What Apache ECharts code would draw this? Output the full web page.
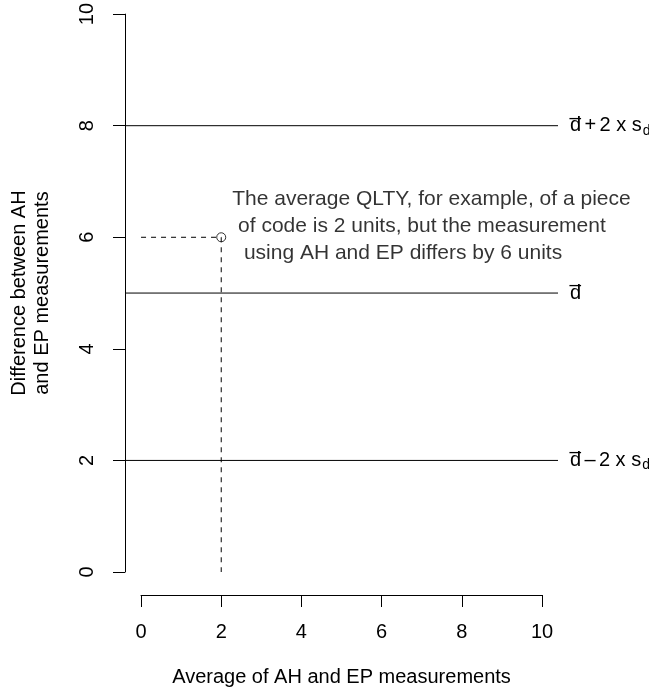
<!DOCTYPE html>
<html>
<head>
<meta charset="utf-8">
<title>Bland-Altman plot</title>
<script src="https://cdn.jsdelivr.net/npm/echarts@6/dist/echarts.min.js"></script>
<style>
  html, body { margin: 0; padding: 0; background: #fff; }
  #chart { width: 649px; height: 696px; }
</style>
</head>
<body>
<div id="chart"></div>
<script>
// Limits of agreement: upper (mean + 2 sd), mean difference, lower (mean - 2 sd)
const limitNames = ['upper', 'mean', 'lower'];
const limitValues = [8, 5, 2];
// Example measurement: average 2, difference 6
const examplePoint = [2, 6];
// Axis tick values
const xTicks = [0, 2, 4, 6, 8, 10];
const yTicks = [0, 2, 4, 6, 8, 10];
// Plot region extends 4% past the data range on x
const xRegion = [-0.4, 10.4];

const FONT = "'Liberation Sans', Arial, sans-serif";
const INK = '#000';

const dBar = '{d|d\u0305}';
const limitLabels = {
  upper: dBar + '{t|\u2006+\u20062 x s}{s|d}',
  mean: dBar,
  lower: dBar + '{t|\u2006\u2013\u20062 x s}{s|d}'
};

const richLabel = {
  d: { fontSize: 20, fontFamily: FONT, color: INK },
  t: { fontSize: 20, fontFamily: FONT, color: INK },
  s: { fontSize: 14, fontFamily: FONT, color: INK, padding: [10, 0, 0, 1] }
};

const limitSeries = limitValues.map((v, i) => ({
  type: 'line',
  xAxisIndex: 0,
  yAxisIndex: 0,
  data: [[xRegion[0], v], [xRegion[1], v]],
  symbol: 'none',
  lineStyle: { color: INK, width: 1 },
  silent: true,
  animation: false,
  endLabel: {
    show: true,
    distance: 12,
    formatter: () => limitLabels[limitNames[i]],
    rich: richLabel
  }
}));

const dashStyle = { color: INK, width: 1, type: [5, 5] };

const option = {
  animation: false,
  backgroundColor: '#fff',
  textStyle: { fontFamily: FONT },
  grid: [
    { left: 125, right: 91, top: 14, bottom: 124 },
    { left: 141, width: 401, top: 594, height: 1 }
  ],
  xAxis: [
    {
      gridIndex: 0, type: 'value', min: xRegion[0], max: xRegion[1],
      show: false
    },
    {
      gridIndex: 1, type: 'value', min: xTicks[0], max: xTicks[xTicks.length - 1],
      interval: 2, position: 'bottom',
      name: 'Average of AH and EP measurements',
      nameLocation: 'middle', nameGap: 72,
      nameTextStyle: { fontSize: 20, color: INK, fontFamily: FONT },
      axisLine: { show: true, onZero: false, lineStyle: { color: INK, width: 1 } },
      axisTick: { show: true, length: 12, lineStyle: { color: INK } },
      axisLabel: { fontSize: 20, color: INK, margin: 27, fontFamily: FONT },
      splitLine: { show: false }
    }
  ],
  yAxis: [
    {
      gridIndex: 0, type: 'value', min: yTicks[0], max: yTicks[yTicks.length - 1],
      interval: 2,
      name: 'Difference between AH\nand EP measurements',
      nameLocation: 'middle', nameGap: 71, nameRotate: 90,
      nameTextStyle: { fontSize: 20, color: INK, fontFamily: FONT, lineHeight: 23 },
      axisLine: { show: true, onZero: false, lineStyle: { color: INK, width: 1 } },
      axisTick: { show: true, length: 12, lineStyle: { color: INK } },
      axisLabel: { fontSize: 20, color: INK, margin: 28, rotate: 90, fontFamily: FONT },
      splitLine: { show: false }
    },
    { gridIndex: 1, type: 'value', show: false, min: 0, max: 1 }
  ],
  series: [
    ...limitSeries,
    {
      // dashed guide from the y-axis to the example point
      type: 'line', xAxisIndex: 0, yAxisIndex: 0,
      data: [[0, examplePoint[1]], [examplePoint[0], examplePoint[1]]],
      symbol: 'none', lineStyle: dashStyle, silent: true
    },
    {
      // dashed guide from the example point down to zero
      type: 'line', xAxisIndex: 0, yAxisIndex: 0,
      data: [[examplePoint[0], examplePoint[1]], [examplePoint[0], 0]],
      symbol: 'none', lineStyle: dashStyle, silent: true
    },
    {
      type: 'scatter', xAxisIndex: 0, yAxisIndex: 0,
      data: [examplePoint],
      symbol: 'circle', symbolSize: 9,
      itemStyle: { color: '#fff', borderColor: INK, borderWidth: 1 },
      label: {
        show: true,
        position: 'right',
        distance: 6,
        offset: [0, -11],
        align: 'left',
        fontSize: 21,
        lineHeight: 27,
        color: INK,
        fontFamily: FONT,
        formatter: 'The average QLTY, for example, of a piece\n of code is 2 units, but the measurement\n  using AH and EP differs by 6 units'
      }
    }
  ]
};

const chart = echarts.init(document.getElementById('chart'), null, { renderer: 'canvas' });
chart.setOption(option);
</script>
</body>
</html>
